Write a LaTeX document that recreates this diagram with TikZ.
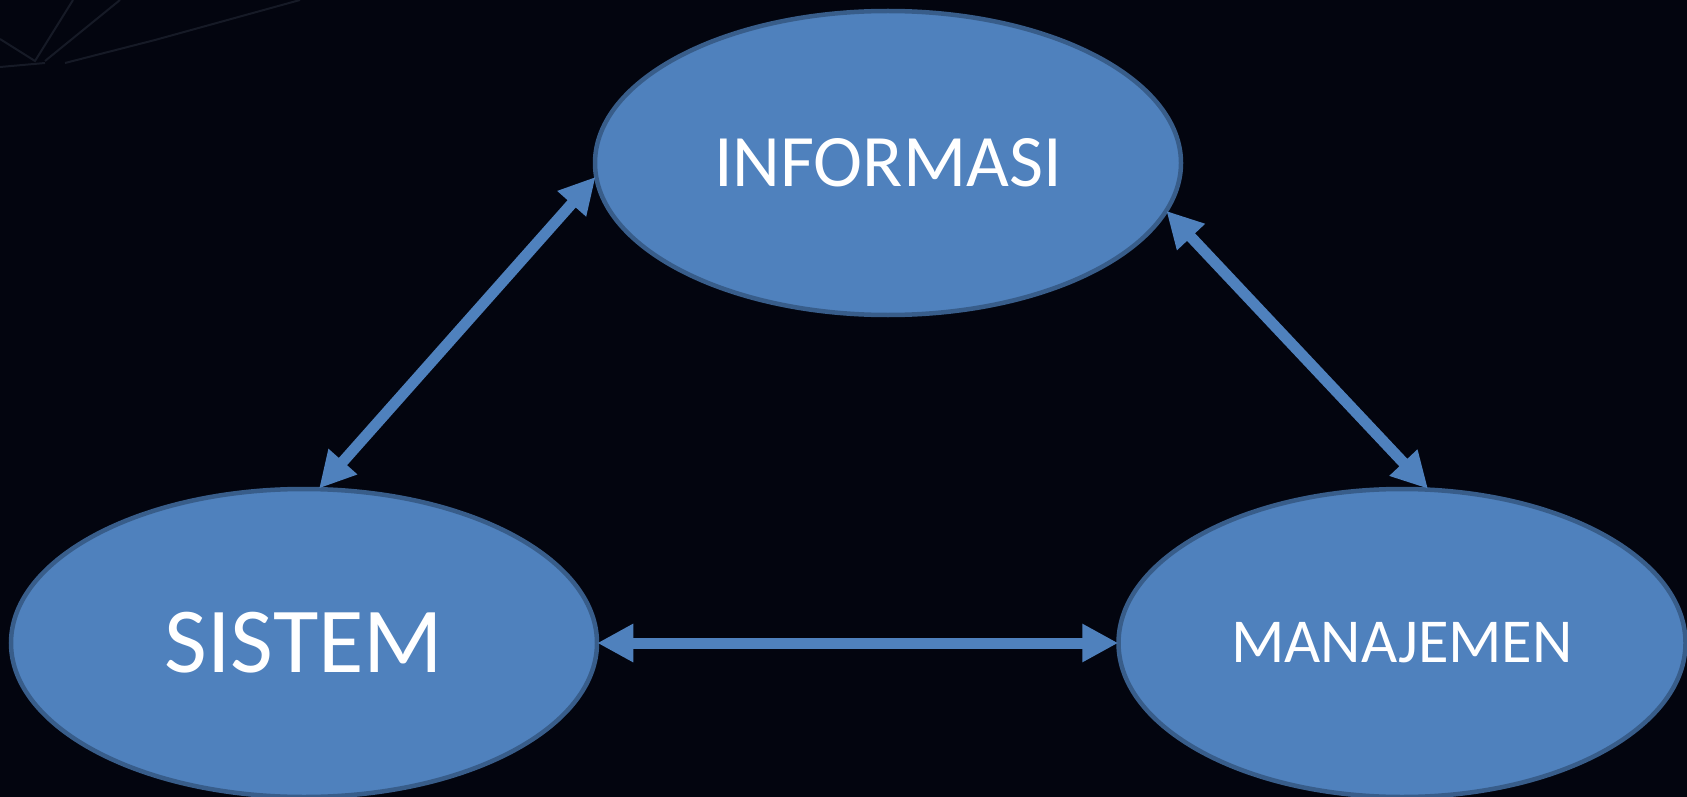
\documentclass[tikz,border=0pt]{standalone}
\usepackage{fontspec}
\setmainfont{Carlito}
\usetikzlibrary{shapes.geometric,arrows.meta}
\definecolor{bgdark}{RGB}{3,5,15}
\definecolor{ovalfill}{RGB}{79,129,189}
\definecolor{ovalline}{RGB}{56,93,138}
\definecolor{faintline}{RGB}{22,26,38}
\tikzset{
  oval/.style={ellipse,draw=ovalline,fill=ovalfill,line width=4.5pt,inner sep=0pt,text=white},
  link/.style={draw=ovalfill,line width=11pt,{Triangle[length=36pt,width=36pt]}-{Triangle[length=36pt,width=36pt]},shorten <=-2pt,shorten >=-2pt}
}
\begin{document}
\begin{tikzpicture}[x=1pt,y=-1pt]
  \fill[bgdark] (0,0) rectangle (1687,797);
  \useasboundingbox (0,0) rectangle (1687,797);
  % faint background strokes
  \begin{scope}[draw=faintline,line width=2pt]
    \draw (0,39) -- (35,61) -- (73,0);
    \draw (45,61) -- (120,0);
    \draw (0,67) -- (45,63);
    \draw (65,63) -- (155,40) -- (300,0);
  \end{scope}
  \node[oval,minimum width=586pt,minimum height=304pt,font=\fontsize{74}{80}\selectfont] (info) at (888,163) {INFORMASI};
  \node[oval,minimum width=586pt,minimum height=308pt,font=\fontsize{93}{100}\selectfont] (sistem) at (304,643) {SISTEM};
  \node[oval,minimum width=567pt,minimum height=308pt,font=\fontsize{62.5}{70}\selectfont] (mnj) at (1402,643) {MANAJEMEN};
  \draw[link] (sistem.84) -- (info.183);
  \draw[link] (info.350) -- (mnj.81);
  \draw[link] (sistem.east) -- (mnj.west);
\end{tikzpicture}
\end{document}
